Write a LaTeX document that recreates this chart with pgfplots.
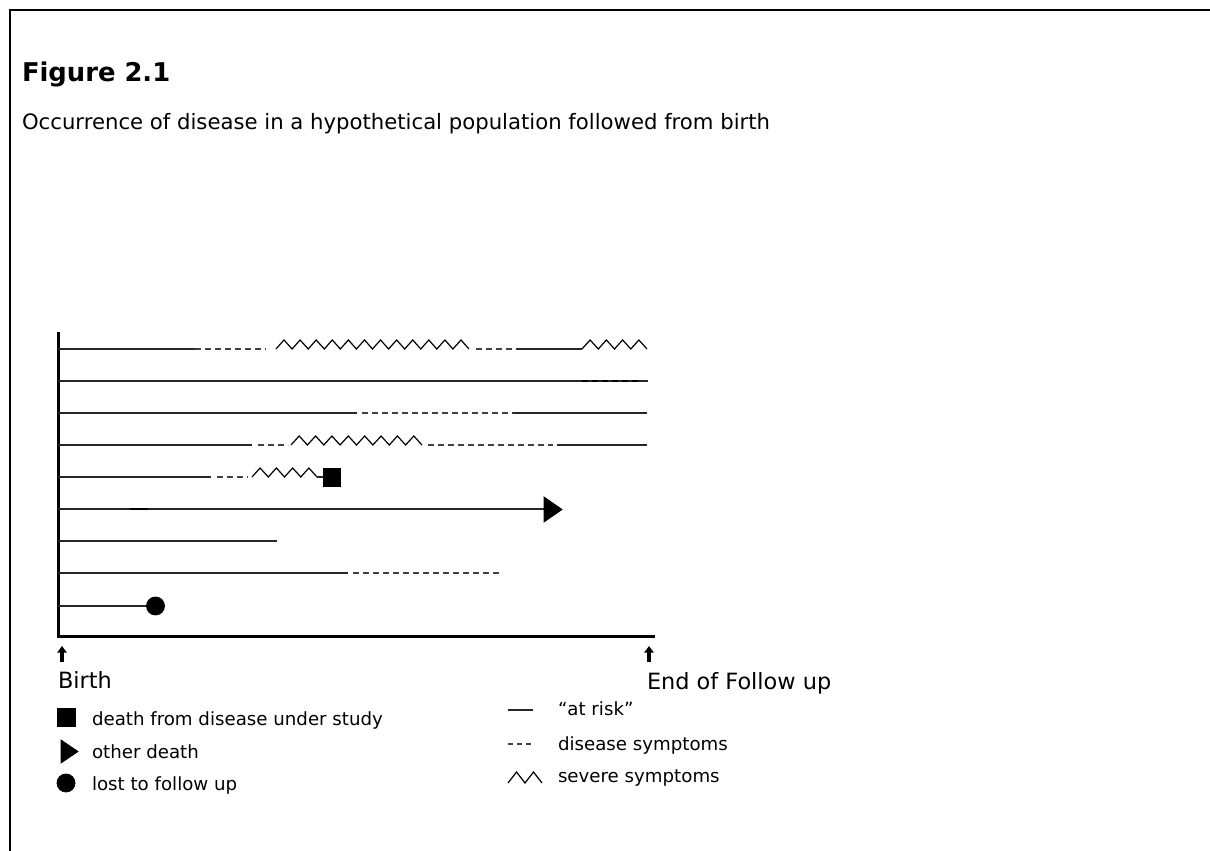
\documentclass[border=0pt]{standalone}
\usepackage{pgfplots}
\pgfplotsset{compat=1.18}
\usepackage{fontspec}
\setmainfont{DejaVu Sans}
\usetikzlibrary{arrows.meta}

\pgfdeclareplotmark{rtri}{%
  \pgfpathmoveto{\pgfqpoint{-4.5pt}{6.25pt}}%
  \pgfpathlineto{\pgfqpoint{4.5pt}{0pt}}%
  \pgfpathlineto{\pgfqpoint{-4.5pt}{-6.25pt}}%
  \pgfpathclose
  \pgfusepathqfillstroke}
\pgfdeclareplotmark{rtrismall}{%
  \pgfpathmoveto{\pgfqpoint{-4.25pt}{5.75pt}}%
  \pgfpathlineto{\pgfqpoint{4.25pt}{0pt}}%
  \pgfpathlineto{\pgfqpoint{-4.25pt}{-5.75pt}}%
  \pgfpathclose
  \pgfusepathqfillstroke}

\tikzset{
  risk/.style={black!85, line width=0.75pt},
  symp/.style={black!75, line width=0.75pt, dash pattern=on 3pt off 2pt},
  severe/.style={black, line width=0.6pt, line join=miter},
  txt/.style={anchor=base west, inner sep=0pt, outer sep=0pt},
  uparrow/.style={black, line width=1.7pt, -{Triangle[width=4.6pt,length=3.3pt]}},
}

\begin{document}
\begin{tikzpicture}
\begin{axis}[x=0.5pt, y=0.5pt, xmin=0, xmax=1210, ymin=0, ymax=851,
  hide axis, clip=false]
% frame
\addplot[black, line width=1pt] coordinates {(10,0) (10,841) (1210,841)};

% axis lines
\addplot[black, line width=1.5pt] coordinates {(58,519) (58,214) (655,214)};
% arrows
\addplot[uparrow] coordinates {(62,189) (62,205)};
\addplot[uparrow] coordinates {(649,189) (649,205)};

% Row 9
\addplot[risk] coordinates {(58,502) (195,502)};
\addplot[symp] coordinates {(195,502) (266,502)};
\addplot[severe] coordinates {(276,502) (284,511) (292.1,502) (300.1,511) (308.2,502) (316.2,511) (324.3,502) (332.3,511) (340.3,502) (348.4,511) (356.4,502) (364.5,511) (372.5,502) (380.5,511) (388.6,502) (396.6,511) (404.7,502) (412.7,511) (420.8,502) (428.8,511) (436.8,502) (444.9,511) (452.9,502) (461,511) (469,502)};
\addplot[symp] coordinates {(476,502) (517,502)};
\addplot[risk] coordinates {(517,502) (582,502)};
\addplot[severe] coordinates {(582,502) (590.1,511) (598.3,502) (606.4,511) (614.5,502) (622.6,511) (630.8,502) (638.9,511) (647,502)};

% Row 8
\addplot[risk] coordinates {(58,470) (648,470)};
\addplot[symp, black, line width=0.9pt] coordinates {(582,470) (640,470)};

% Row 7
\addplot[risk] coordinates {(58,438) (357,438)};
\addplot[symp] coordinates {(362,438) (513,438)};
\addplot[risk] coordinates {(513,438) (647,438)};

% Row 6
\addplot[risk] coordinates {(58,406) (252,406)};
\addplot[symp] coordinates {(258,406) (288,406)};
\addplot[severe] coordinates {(291,406) (299.2,415) (307.4,406) (315.6,415) (323.8,406) (331.9,415) (340.1,406) (348.3,415) (356.5,406) (364.7,415) (372.9,406) (381.1,415) (389.3,406) (397.4,415) (405.6,406) (413.8,415) (422,406)};
\addplot[symp] coordinates {(428,406) (553,406)};
\addplot[risk] coordinates {(557,406) (647,406)};

% Row 5
\addplot[risk] coordinates {(58,374) (211,374)};
\addplot[symp] coordinates {(217,374) (248,374)};
\addplot[severe] coordinates {(252,374) (260.1,383) (268.3,374) (276.4,383) (284.5,374) (292.6,383) (300.8,374) (308.9,383) (317,374)};
\addplot[risk] coordinates {(317,374) (326,374)};
\addplot[only marks, mark=square*, mark size=4.4pt, black] coordinates {(332,373.5)};

% Row 4
\addplot[risk] coordinates {(58,342) (548,342)};
\addplot[black, line width=1pt] coordinates {(130,342) (148,342)};
\addplot[only marks, mark=rtri, black] coordinates {(553,341.5)};

% Row 3
\addplot[risk] coordinates {(58,310) (277,310)};

% Row 2
\addplot[risk] coordinates {(58,278) (348,278)};
\addplot[symp] coordinates {(353,278) (501,278)};

% Row 1
\addplot[risk] coordinates {(58,245) (150,245)};
\addplot[only marks, mark=*, mark size=4.5pt, black] coordinates {(155.5,245)};

% Left legend markers
\addplot[only marks, mark=square*, mark size=4.5pt, black] coordinates {(66,133.5)};
\addplot[only marks, mark=rtrismall, black] coordinates {(69.5,99.5)};
\addplot[only marks, mark=*, mark size=4.5pt, black] coordinates {(66,68)};

% Right legend samples
\addplot[risk] coordinates {(508,141) (533,141)};
\addplot[symp, dash pattern=on 2.5pt off 2pt] coordinates {(508,107) (533,107)};
\addplot[severe] coordinates {(508,68) (516.5,79) (525,68) (533.5,79) (542,68)};

% Texts
\node[txt, font=\bfseries\fontsize{12.9pt}{15pt}\selectfont] at (axis cs:22,769) {Figure 2.1};
\node[txt, font=\fontsize{10.6pt}{12.5pt}\selectfont] at (axis cs:22,721) {Occurrence of disease in a hypothetical population followed from birth};
\node[txt, font=\fontsize{11.2pt}{13pt}\selectfont] at (axis cs:58,162) {Birth};
\node[txt, font=\fontsize{11.2pt}{13pt}\selectfont] at (axis cs:647,161) {End of Follow up};

\node[txt, font=\fontsize{9.1pt}{11pt}\selectfont] at (axis cs:92,125) {death from disease under study};
\node[txt, font=\fontsize{9.1pt}{11pt}\selectfont] at (axis cs:92,92) {other death};
\node[txt, font=\fontsize{9.1pt}{11pt}\selectfont] at (axis cs:92,60) {lost to follow up};

\node[txt, font=\fontsize{9.1pt}{11pt}\selectfont] at (axis cs:558,135) {“at risk”};
\node[txt, font=\fontsize{9.1pt}{11pt}\selectfont] at (axis cs:558,100) {disease symptoms};
\node[txt, font=\fontsize{9.1pt}{11pt}\selectfont] at (axis cs:558,68) {severe symptoms};
\end{axis}
\pgfresetboundingbox
\useasboundingbox (0,0) rectangle (605pt,425.5pt);
\end{tikzpicture}
\end{document}
